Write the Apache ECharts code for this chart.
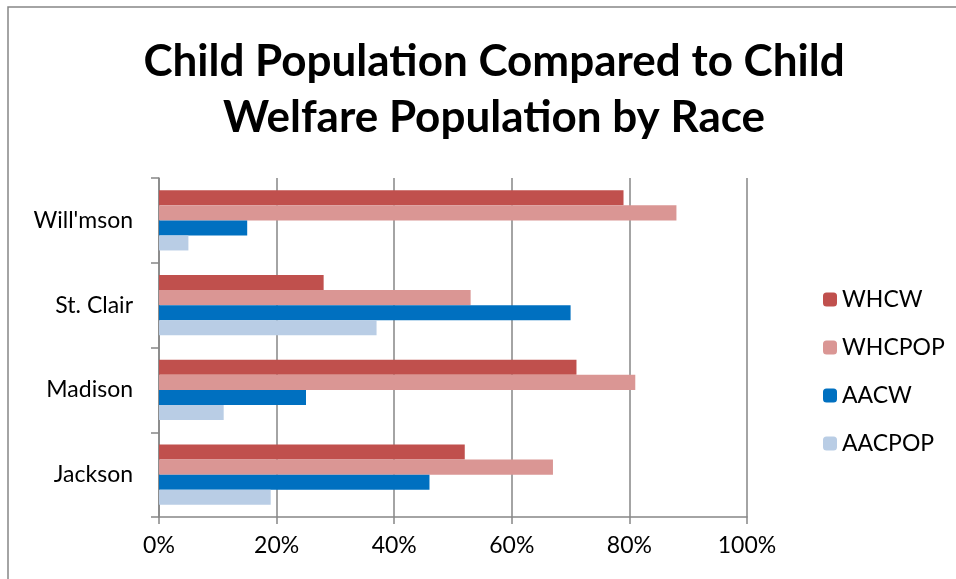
<!DOCTYPE html>
<html>
<head>
<meta charset="utf-8">
<script src="https://cdn.jsdelivr.net/npm/echarts@6/dist/echarts.min.js"></script>
<style>html,body{margin:0;padding:0;background:#fff}#c{width:956px;height:579px}</style>
</head>
<body>
<div id="c"></div>
<script>
var categories = ["Jackson", "Madison", "St. Clair", "Will'mson"];
var seriesNames = ["WHCW", "WHCPOP", "AACW", "AACPOP"];
var WHCW = [52, 71, 28, 79];
var WHCPOP = [67, 81, 53, 88];
var AACW = [46, 25, 70, 15];
var AACPOP = [19, 11, 37, 5];
var xTicks = [0, 20, 40, 60, 80, 100];
var colors = {WHCW: "#C0504D", WHCPOP: "#DA9694", AACW: "#0070C0", AACPOP: "#B9CDE5"};
var values = {WHCW: WHCW, WHCPOP: WHCPOP, AACW: AACW, AACPOP: AACPOP};

var font = "Lato, 'Open Sans', sans-serif";
var chart = echarts.init(document.getElementById('c'), null, {renderer: 'canvas'});
chart.setOption({
  animation: false,
  backgroundColor: '#fff',
  title: {
    text: 'Child Population Compared to Child\nWelfare Population by Race',
    left: 489, top: 29, textAlign: 'center',
    textStyle: {fontFamily: font, fontWeight: 'bold', fontSize: 44, lineHeight: 56, color: '#000'}
  },
  graphic: [{
    type: 'rect', shape: {x: 8, y: 7, width: 1000, height: 1000},
    style: {fill: null, stroke: '#868686', lineWidth: 1.5}, silent: true
  }],
  legend: {
    data: seriesNames, orient: 'vertical', left: 818, top: 283,
    itemWidth: 14, itemHeight: 14, itemGap: 25,
    textStyle: {fontFamily: font, fontSize: 23, lineHeight: 21, color: '#000'}
  },
  grid: {left: 159, right: 209, top: 178, bottom: 62, containLabel: false},
  xAxis: {
    type: 'value', min: 0, max: 100, interval: 20,
    axisLabel: {formatter: function(v){return v + '%';}, fontFamily: font, fontSize: 23, color: '#000', margin: 17},
    axisLine: {show: true, lineStyle: {color: '#868686', width: 1.5}},
    axisTick: {show: true, length: 7, lineStyle: {color: '#868686', width: 1.5}},
    splitLine: {show: true, lineStyle: {color: '#868686', width: 1.5}}
  },
  yAxis: {
    type: 'category', data: categories,
    axisLabel: {fontFamily: font, fontSize: 23, color: '#000', margin: 26},
    axisLine: {show: true, lineStyle: {color: '#868686', width: 1.5}},
    axisTick: {show: true, length: 8, lineStyle: {color: '#868686', width: 1.5}}
  },
  series: seriesNames.map(function(n){
    return {
      name: n, type: 'bar', data: values[n], barGap: '0%', barCategoryGap: '29%',
      itemStyle: {color: colors[n]}
    };
  })
});
</script>
</body>
</html>
